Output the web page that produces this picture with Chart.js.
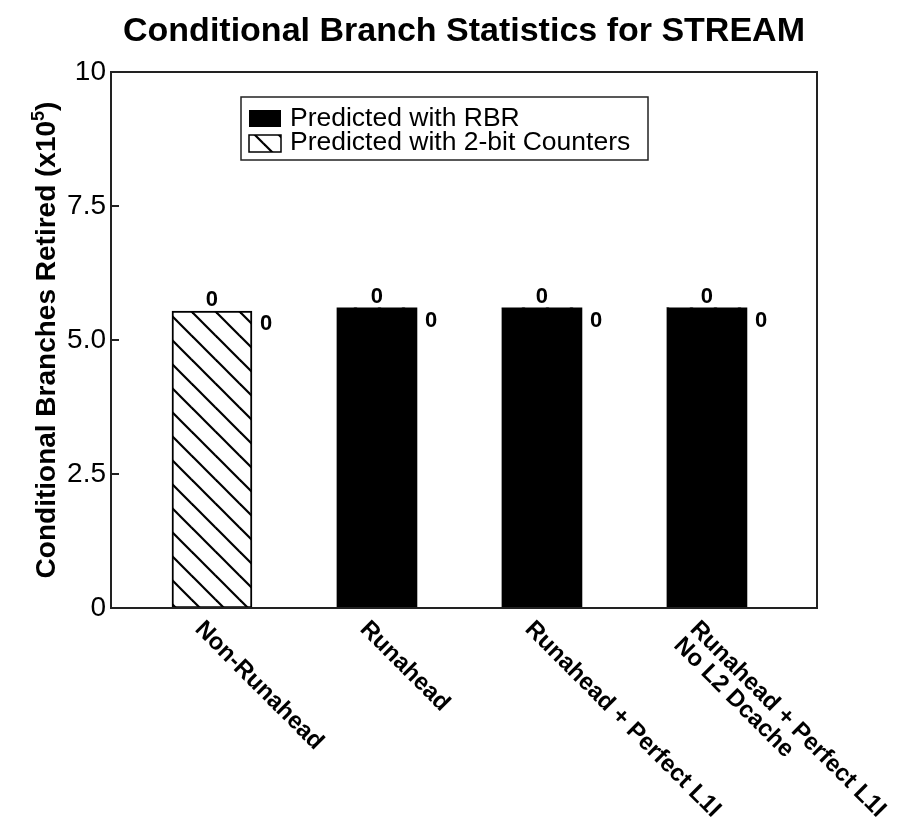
<!DOCTYPE html>
<html>
<head>
<meta charset="utf-8">
<script src="https://cdn.jsdelivr.net/npm/chart.js@4/dist/chart.umd.min.js"></script>
<style>
  html, body { margin: 0; padding: 0; background: #fff; }
  #wrap { width: 904px; height: 824px; }
</style>
</head>
<body>
<div id="wrap"><canvas id="chart" width="904" height="824"></canvas></div>
<script>
// data
const categories = [
  ['Non-Runahead'],
  ['Runahead'],
  ['Runahead + Perfect L1I'],
  ['Runahead + Perfect L1I', 'No L2 Dcache']
];
const rbrValues = [0, 5.6, 5.6, 5.6];
const counterValues = [5.54, 0, 0, 0];
const topLabels = ['0', '0', '0', '0'];
const sideLabels = ['0', '0', '0', '0'];
const yTicks = [0, 2.5, 5, 7.5, 10];
const yTickLabels = ['0', '2.5', '5.0', '7.5', '10'];
const seriesNames = ['Predicted with RBR', 'Predicted with 2-bit Counters'];

const FONT = "'Liberation Sans', Arial, Helvetica, sans-serif";
const INK = '#000';
const AXIS = '#222';

// diagonal hatch for the 2-bit counter bars
function makeHatch() {
  const p = 24;
  const c = document.createElement('canvas');
  c.width = p; c.height = p;
  const g = c.getContext('2d');
  g.fillStyle = '#fff';
  g.fillRect(0, 0, p, p);
  g.strokeStyle = INK;
  g.lineWidth = 2.2;
  for (const o of [-p, 0, p]) {
    g.beginPath();
    g.moveTo(o - 2, -2);
    g.lineTo(o + p + 2, p + 2);
    g.stroke();
  }
  return g.createPattern(c, 'repeat');
}
const hatch = makeHatch();

const decor = {
  id: 'decor',
  afterDatasetsDraw(chart) {
    const { ctx, scales: { x, y } } = chart;
    ctx.save();
    ctx.fillStyle = INK;
    ctx.font = 'bold 22px ' + FONT;
    ctx.textBaseline = 'alphabetic';
    categories.forEach((c, i) => {
      const cx = x.getPixelForValue(i);
      const top = y.getPixelForValue(rbrValues[i] + counterValues[i]);
      ctx.textAlign = 'center';
      ctx.fillText(topLabels[i], cx, top - 5);
      ctx.textAlign = 'left';
      ctx.fillText(sideLabels[i], cx + 48, top + 19);
    });
    ctx.restore();
  },
  afterDraw(chart) {
    const { ctx, chartArea: a, scales: { x, y } } = chart;
    ctx.save();

    // frame + inward ticks
    ctx.strokeStyle = AXIS;
    ctx.lineWidth = 2;
    ctx.strokeRect(a.left, a.top, a.right - a.left, a.bottom - a.top);
    yTicks.forEach(v => {
      const py = y.getPixelForValue(v);
      ctx.beginPath();
      ctx.moveTo(a.left, py);
      ctx.lineTo(a.left + 8, py);
      ctx.stroke();
    });

    // rotated category labels
    ctx.fillStyle = INK;
    ctx.font = 'bold 24px ' + FONT;
    ctx.textAlign = 'left';
    ctx.textBaseline = 'alphabetic';
    categories.forEach((lines, i) => {
      const cx = x.getPixelForValue(i);
      ctx.save();
      ctx.translate(cx - 6, a.bottom + 10);
      ctx.rotate(Math.PI / 4);
      lines.forEach((t, k) => ctx.fillText(t, 0, 17 + k * 23));
      ctx.restore();
    });

    // y axis title with superscript
    const main = 'Conditional Branches Retired (x10';
    const sup = '5';
    const tail = ')';
    ctx.font = 'bold 28px ' + FONT;
    const w1 = ctx.measureText(main).width;
    const w3 = ctx.measureText(tail).width;
    ctx.font = 'bold 18px ' + FONT;
    const w2 = ctx.measureText(sup).width;
    const total = w1 + w2 + w3;
    ctx.save();
    ctx.translate(55, (a.top + a.bottom) / 2);
    ctx.rotate(-Math.PI / 2);
    let sx = -total / 2;
    ctx.font = 'bold 28px ' + FONT;
    ctx.fillText(main, sx, 0);
    sx += w1;
    ctx.font = 'bold 18px ' + FONT;
    ctx.fillText(sup, sx, -11);
    sx += w2;
    ctx.font = 'bold 28px ' + FONT;
    ctx.fillText(tail, sx, 0);
    ctx.restore();

    // legend box
    const lx = 241, ly = 97, lw = 407, lh = 63;
    ctx.fillStyle = '#fff';
    ctx.fillRect(lx, ly, lw, lh);
    ctx.lineWidth = 1.5;
    ctx.strokeStyle = AXIS;
    ctx.strokeRect(lx, ly, lw, lh);
    ctx.font = '26.5px ' + FONT;
    ctx.textAlign = 'left';
    chart.data.datasets.forEach((ds, k) => {
      const sy = 110 + k * 25;
      ctx.fillStyle = ds.backgroundColor;
      ctx.fillRect(249, sy, 32, 17);
      if (k === 1) {
        ctx.lineWidth = 1.5;
        ctx.strokeStyle = INK;
        ctx.strokeRect(249, sy, 32, 17);
      }
      ctx.fillStyle = INK;
      ctx.fillText(ds.label, 290, 126 + k * 24);
    });

    ctx.restore();
  }
};

new Chart(document.getElementById('chart'), {
  type: 'bar',
  data: {
    datasets: [
      {
        label: seriesNames[0],
        data: rbrValues.map((v, i) => ({ x: i, y: v })),
        backgroundColor: INK,
        borderWidth: 0,
        barThickness: 80
      },
      {
        label: seriesNames[1],
        data: counterValues.map((v, i) => ({ x: i, y: v })),
        backgroundColor: hatch,
        borderColor: INK,
        borderWidth: c => (c.raw && c.raw.y > 0 ? 2 : 0),
        borderSkipped: false,
        barThickness: 80
      }
    ]
  },
  options: {
    responsive: false,
    animation: false,
    devicePixelRatio: 1,
    layout: { padding: { left: 0, right: 87, top: 0, bottom: 0 } },
    plugins: {
      legend: { display: false },
      tooltip: { enabled: false },
      title: {
        display: true,
        fullSize: false,
        text: 'Conditional Branch Statistics for STREAM',
        color: INK,
        font: { family: FONT, size: 34, weight: 'bold' },
        padding: { top: 11, bottom: 20.2 }
      }
    },
    scales: {
      x: {
        type: 'linear',
        offset: false,
        min: -0.612,
        max: 3.667,
        stacked: true,
        ticks: { display: false },
        grid: { display: false, offset: false },
        border: { display: false },
        afterFit: s => { s.height = 216; }
      },
      y: {
        min: 0,
        max: 10,
        stacked: true,
        afterBuildTicks: s => { s.ticks = yTicks.map(v => ({ value: v })); },
        ticks: {
          padding: 5,
          color: INK,
          font: { family: FONT, size: 28 },
          callback: v => yTickLabels[yTicks.indexOf(v)]
        },
        grid: { display: false, drawTicks: false },
        border: { display: false },
        afterFit: s => { s.width = 111; }
      }
    }
  },
  plugins: [decor]
});
</script>
</body>
</html>
